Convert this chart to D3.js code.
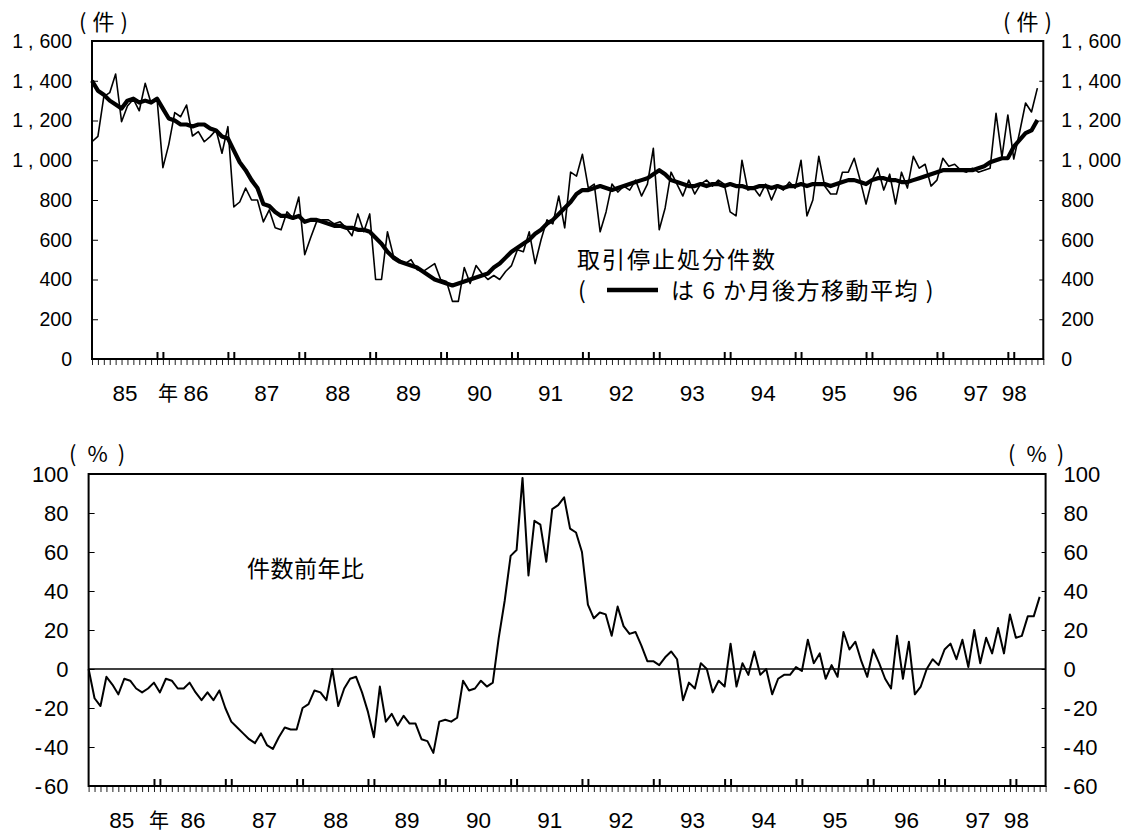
<!DOCTYPE html>
<html><head><meta charset="utf-8">
<script src="https://cdn.jsdelivr.net/npm/d3@7"></script>
<style>
body{margin:0;background:#fff}
svg{display:block}
text{font-family:"Liberation Sans",Arial,sans-serif;fill:#000}
.jp{font-family:"Noto Sans CJK JP","Noto Sans",sans-serif}
</style>
</head><body>
<svg id="c" width="1133" height="835"></svg>
<script>
// ---- data (monthly, Jan 1985 - May 1998) ----
const yearLabels = ["85","86","87","88","89","90","91","92","93","94","95","96","97","98"];
const countTicks = [0,200,400,600,800,1000,1200,1400,1600];
const pctTicks = [-60,-40,-20,0,20,40,60,80,100];

const counts = [
1093,1120,1320,1340,1434,1194,1273,1307,1249,1387,1287,1312,
963,1080,1240,1219,1278,1122,1144,1093,1119,1152,1035,1169,
765,790,860,800,800,690,750,660,650,740,710,815,
525,610,690,700,700,680,690,660,620,730,640,730,
400,400,640,520,500,480,500,450,440,460,480,400,
390,290,290,460,380,470,430,400,420,400,440,470,
550,540,640,480,600,700,680,820,660,940,920,1030,
860,880,640,740,880,840,870,850,900,820,880,1060,
650,760,940,880,820,900,830,880,900,870,900,880,
740,720,1000,850,860,820,880,800,870,850,890,860,
1000,720,800,1020,870,830,830,940,940,1010,900,780,
900,960,850,930,780,940,860,1020,960,980,870,900,
1010,970,980,950,940,960,940,950,960,1236,1016,1228,
1006,1142,1288,1243,1363];

const movingAvg = [
1400,1350,1330,1300,1280,1260,1300,1310,1290,1300,1290,1310,
1260,1210,1200,1180,1180,1170,1180,1180,1160,1150,1120,1110,
1050,990,950,900,860,780,770,740,720,720,710,720,
690,700,700,690,680,670,670,660,660,650,650,640,
610,580,540,510,490,480,470,460,440,420,400,390,
380,370,380,390,400,410,420,430,460,480,510,540,
560,580,600,630,650,680,700,730,760,790,830,850,
850,860,870,860,850,860,870,880,890,900,910,930,
950,930,900,890,880,870,870,880,870,880,880,870,
880,870,870,860,860,870,870,860,870,860,870,870,
880,870,880,880,880,870,880,890,900,900,890,880,
900,910,910,900,900,890,890,900,910,920,930,940,
950,950,950,950,950,950,960,970,990,1000,1010,1011,
1068,1102,1136,1150,1203];

const yoyPct = [
0,-15,-19,-4,-8,-13,-5,-6,-10,-12,-10,-7,
-12,-5,-6,-10,-10,-7,-12,-16,-12,-16,-11,-20,
-27,-30,-33,-36,-38,-33,-39,-41,-35,-30,-31,-31,
-20,-18,-11,-12,-16,0,-19,-10,-5,-4,-12,-22,
-35,-9,-27,-23,-29,-24,-28,-28,-36,-37,-43,-27,
-26,-27,-25,-6,-11,-10,-6,-9,-7,16,35,58,
61,98,48,76,74,55,82,84,88,72,70,60,
33,26,29,28,17,32,22,18,19,12,4,4,
2,6,9,5,-16,-7,-10,3,0,-12,-6,-9,
13,-9,3,-3,9,-3,0,-13,-5,-3,-3,1,
-1,15,3,8,-5,2,-4,19,10,14,4,-4,
10,3,-5,-10,17,-5,14,-13,-9,0,5,2,
10,13,5,15,1,20,3,16,8,21,8,28,
16,17,27,27,37];

const nSlots = 161; // axis spans month index 0..161

const svg = d3.select("#c");

function fmtLabel(sel){
  sel.each(function(d){
    const t = d3.select(this);
    t.text(null);
    if (d >= 1000){
      const s = String(d);
      t.append("tspan").text(s.slice(0, s.length-3));
      t.append("tspan").attr("dx",5).text(",");
      t.append("tspan").attr("dx",6).text(s.slice(-3));
    } else if (d < 0){
      t.append("tspan").text("-");
      t.append("tspan").attr("dx",2).text(String(-d));
    } else t.text(String(d));
  });
}

function unitLabel(g, x, y, sym, gapL, gapR){
  const t = g.append("text").attr("class","jp").attr("x",x).attr("y",y).attr("font-size",22);
  t.append("tspan").text("(");
  t.append("tspan").attr("dx",gapL).text(sym);
  t.append("tspan").attr("dx",gapR).text(")");
}

function panel(opt){
  const {x0,x1,yTop,yBot,domain,ticks,series,zero,unitLeftX,unitRightX,unitY,unitSym,gapL,gapR,nenX,yFont} = opt;
  const x = d3.scaleLinear().domain([0,nSlots]).range([x0,x1]);
  const y = d3.scaleLinear().domain(domain).range([yBot,yTop]);
  const g = svg.append("g");

  // minor monthly ticks (below axis)
  g.append("g").attr("transform",`translate(0,${yBot})`)
    .call(d3.axisBottom(x).tickValues(d3.range(0,nSlots+1)).tickSize(6).tickFormat(""))
    .call(a=>a.select(".domain").remove())
    .call(a=>a.selectAll("line").attr("stroke","#222").attr("stroke-width",1));
  // double year ticks (above axis)
  const yb=[]; for(let k=0;k<13;k++){yb.push(12*k+11,12*k+12);}
  g.append("g").attr("transform",`translate(0,${yBot})`)
    .call(d3.axisBottom(x).tickValues(yb).tickSizeInner(-7).tickSizeOuter(0).tickFormat(""))
    .call(a=>a.select(".domain").remove())
    .call(a=>a.selectAll("line").attr("stroke","#000").attr("stroke-width",2));
  // year labels
  const labPos = yearLabels.map((l,k)=> k<13 ? 12*k+5.5 : 156);
  g.append("g").attr("transform",`translate(0,${yBot+26})`)
    .call(d3.axisBottom(x).tickValues(labPos).tickSize(0).tickPadding(0)
      .tickFormat((d,i)=>yearLabels[i]))
    .call(a=>a.select(".domain").remove())
    .call(a=>a.selectAll("text").attr("font-size",22.5).attr("font-family","Liberation Sans, Arial").attr("fill","#000").attr("dy","0.71em"));
  g.append("text").attr("class","jp").attr("x",nenX).attr("y",yBot+42)
    .attr("text-anchor","middle").attr("font-size",20).text("年");

  // left axis
  g.append("g").attr("transform",`translate(${x0},0)`)
    .call(d3.axisLeft(y).tickValues(ticks).tickSizeInner(-6).tickSizeOuter(0).tickPadding(20))
    .call(a=>a.select(".domain").remove())
    .call(a=>a.selectAll("line").attr("stroke","#000"))
    .call(a=>a.selectAll("text").attr("font-size",yFont).attr("font-family","Liberation Sans, Arial").attr("fill","#000").call(fmtLabel));
  // right axis
  g.append("g").attr("transform",`translate(${x1},0)`)
    .call(d3.axisRight(y).tickValues(ticks).tickSizeInner(-4).tickSizeOuter(0).tickPadding(18))
    .call(a=>a.select(".domain").remove())
    .call(a=>a.selectAll("line").attr("stroke","#000"))
    .call(a=>a.selectAll("text").attr("font-size",yFont).attr("font-family","Liberation Sans, Arial").attr("fill","#000").call(fmtLabel));

  // frame
  g.append("rect").attr("x",x0).attr("y",yTop).attr("width",x1-x0).attr("height",yBot-yTop)
    .attr("fill","none").attr("stroke","#000").attr("stroke-width",2);
  if (zero){
    g.append("line").attr("x1",x0).attr("x2",x1).attr("y1",y(0)).attr("y2",y(0))
      .attr("stroke","#000").attr("stroke-width",1.6);
  }
  // series
  series.forEach(s=>{
    const line = d3.line().x((d,i)=>x(i)).y(d=>y(d)).curve(d3.curveLinear);
    g.append("path").datum(s.values).attr("d",line).attr("fill","none")
      .attr("stroke","#000").attr("stroke-width",s.w).attr("stroke-linejoin","round");
  });

  // unit labels
  unitLabel(g, unitLeftX, unitY, unitSym, gapL, gapR);
  unitLabel(g, unitRightX, unitY, unitSym, gapL, gapR);
  return {x,y,g};
}

panel({x0:92,x1:1043.3,yTop:41,yBot:359,domain:[0,1600],ticks:countTicks,yFont:19.5,
  series:[{values:counts,w:1.6},{values:movingAvg,w:4.2}],zero:false,
  unitLeftX:79,unitRightX:1003,unitY:30,unitSym:"件",gapL:6,gapR:6,nenX:168});

panel({x0:88.6,x1:1045.6,yTop:474,yBot:786,domain:[-60,100],ticks:pctTicks,yFont:22,
  series:[{values:yoyPct,w:2}],zero:true,
  unitLeftX:69,unitRightX:1008,unitY:462,unitSym:"%",gapL:11,gapR:10,nenX:159});

// annotations
svg.append("text").attr("class","jp").attr("x",577).attr("y",268)
  .attr("font-size",23).attr("letter-spacing",2).text("取引停止処分件数");
svg.append("text").attr("class","jp").attr("x",578).attr("y",299)
  .attr("font-size",23).text("(");
svg.append("line").attr("x1",607).attr("x2",658).attr("y1",290).attr("y2",290)
  .attr("stroke","#000").attr("stroke-width",4.5);
svg.append("text").attr("class","jp").attr("x",671).attr("y",299)
  .attr("font-size",23).attr("letter-spacing",1.5).attr("xml:space","preserve").text("は 6 か月後方移動平均 )");
svg.append("text").attr("class","jp").attr("x",247).attr("y",577)
  .attr("font-size",23).attr("letter-spacing",0.5).text("件数前年比");
</script>
</body></html>
